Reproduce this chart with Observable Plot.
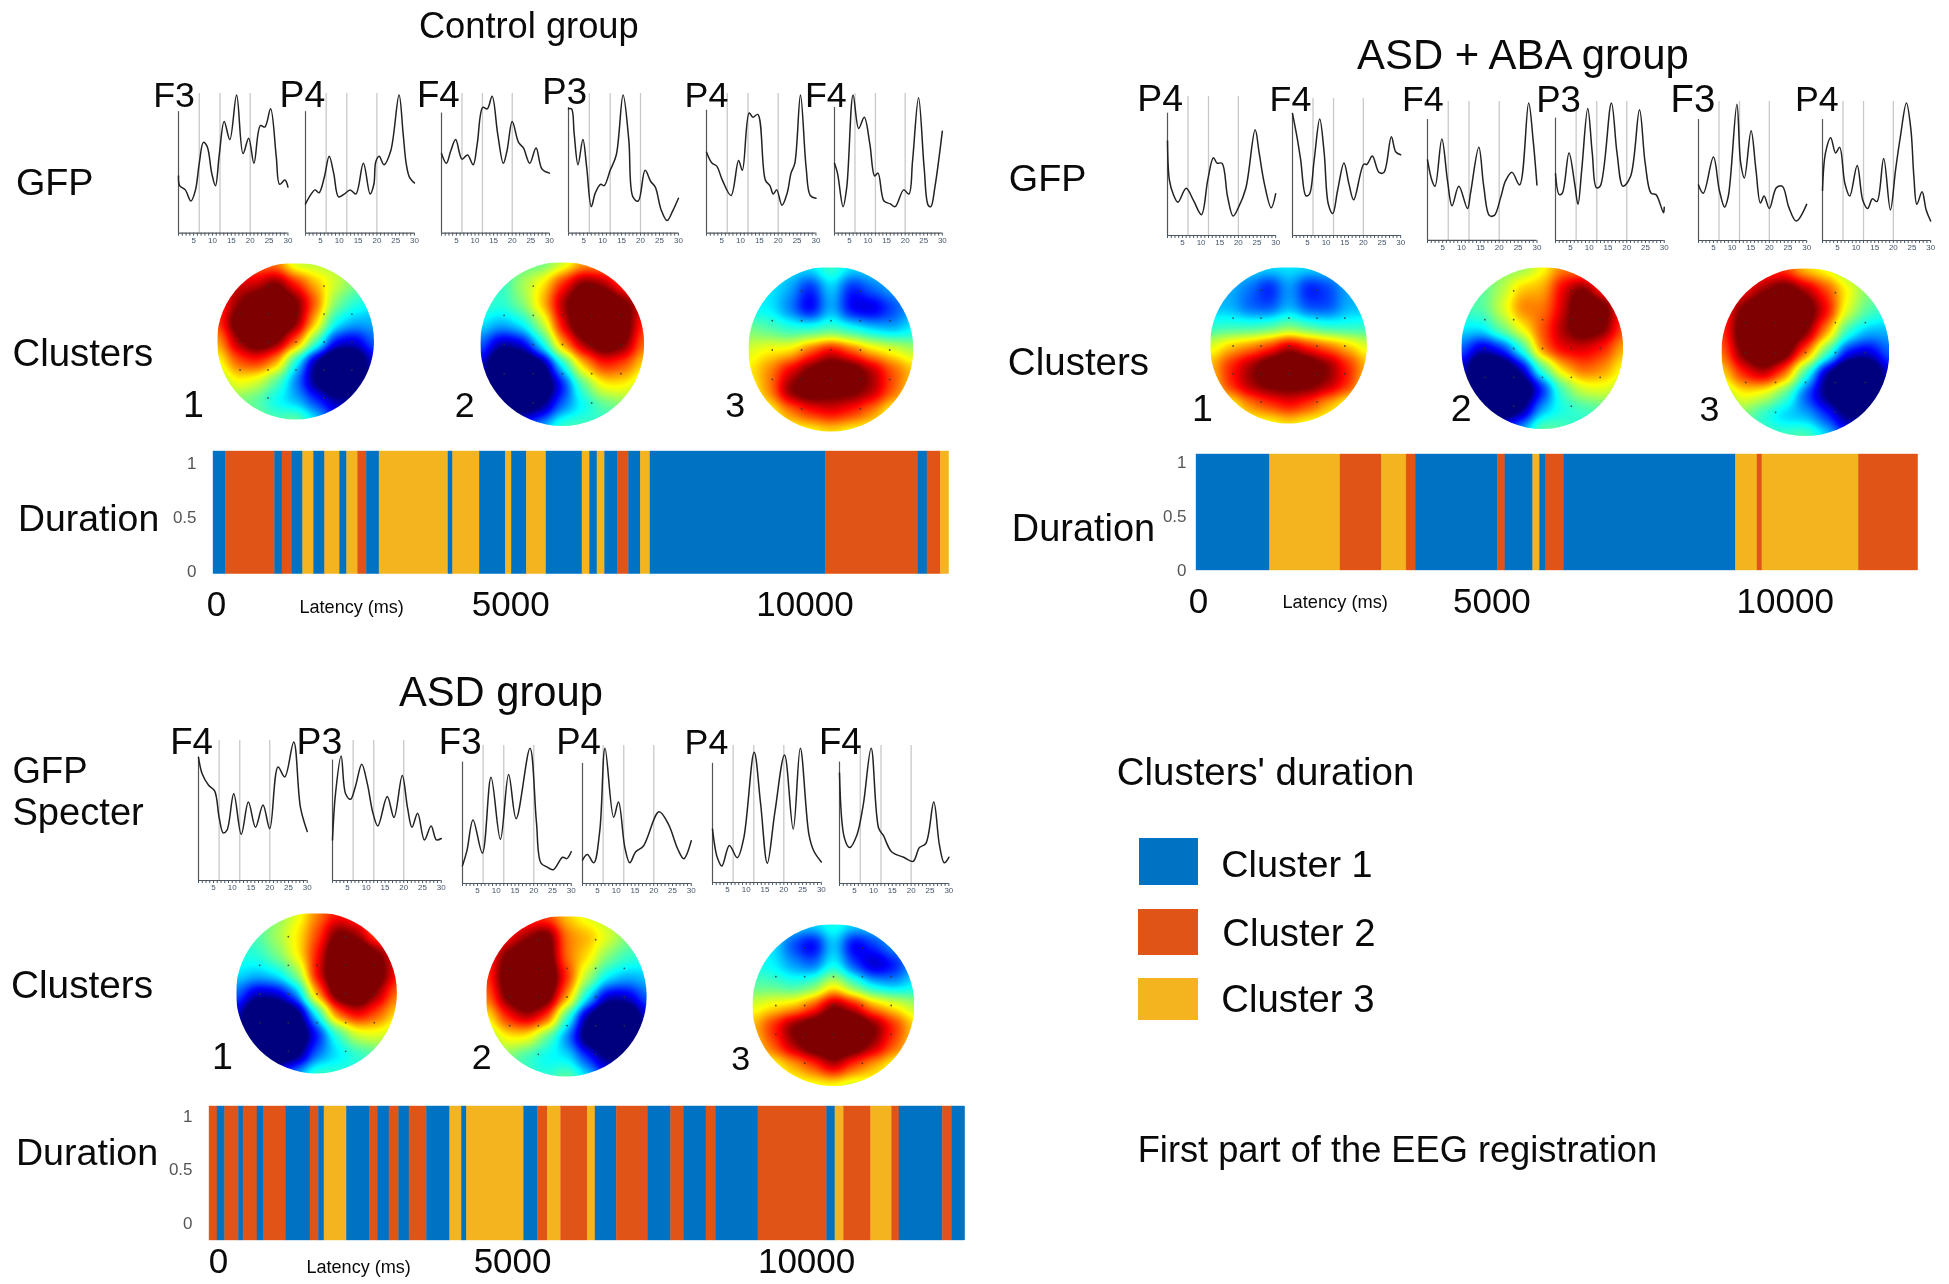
<!DOCTYPE html>
<html><head><meta charset="utf-8">
<script src="https://cdn.jsdelivr.net/npm/d3@7"></script>
<script src="https://cdn.jsdelivr.net/npm/@observablehq/plot@0.6"></script>
<style>
html,body{margin:0;padding:0;background:#fff}
#page{position:relative;width:1949px;height:1284px;overflow:hidden;font-family:"Liberation Sans",Arial,sans-serif;color:#0a0a0a;filter:blur(0.4px)}
#page>svg{position:absolute}
.lab{position:absolute;white-space:nowrap;line-height:1;z-index:5}
.sw{position:absolute}
</style></head><body><div id="page"></div>
<script>
// ---------- cluster colours
const clusterIds=[1,2,3];
const clusterNames=["Cluster 1","Cluster 2","Cluster 3"];
const clusterColors=["#0072c3","#e05517","#f4b41f"];

// ---------- duration: microstate breakpoints (ms) and the cluster of each interval
const controlBreaks=[0,214,1047,1172,1342,1523,1709,1896,2151,2270,2457,2605,2821,3993,4071,4525,4967,5069,5324,5659,6270,6399,6525,6654,6875,7062,7261,7426,10404,11980,12133,12359,12500];
const controlClusters=[1,2,1,2,1,3,1,3,1,3,2,1,3,1,3,1,3,1,3,1,3,1,3,1,2,1,3,1,2,1,2,3];
const abaBreaks=[0,1253,2454,3159,3580,3738,5139,5265,5739,5855,5960,6266,9193,9562,9646,11289,12300];
const abaClusters=[1,3,2,3,2,1,2,1,3,1,2,1,3,2,3,2];
const asdBreaks=[0,136,267,500,578,816,930,1304,1717,1860,1955,2336,2732,2863,3061,3226,3401,3697,4093,4292,4377,5351,5584,5754,5980,6431,6564,6927,7459,7850,8067,8451,8616,9335,10503,10644,10792,11251,11608,11733,12471,12629,12850];
const asdClusters=[2,1,2,1,2,1,2,1,2,1,3,1,2,1,2,1,2,1,3,1,3,1,2,3,2,3,1,2,1,2,1,2,1,2,1,3,2,3,2,1,2,1];

// ---------- GFP spectra: frequency (Hz) and amplitude (% of panel height)
const cF3Hz=[1,1.3,2.8,4.3,5.5,6.5,7.6,8.6,9.8,10.8,11.8,13.1,14.6,16.4,18.1,19.6,21,22.7,23.9,25.4,26.9,27.8,29.2,30];
const cF3V=[41,34,31,23,31,50,65,62,43,34,56,80,67,99,57,68,50,77,76,89,55,35,38,33];
const cP4aHz=[1,2.5,3.5,4.6,6,7.3,8.5,9.8,11.3,12.9,14.4,16.4,18.2,19.2,19.7,20.6,21.9,23.7,25.9,27,27.8,28.7,30];
const cP4aV=[21,28,31,29,40,55,43,26,28,31,28,50,28,35,51,55,49,59,99,71,50,40,36];
const cF4aHz=[1,2.3,3.5,4.8,6.5,8,9.5,10.6,12.1,13.3,14.6,16.1,17.6,18.6,20,21.7,23,24.7,26.4,28,30];
const cF4aV=[57,50,59,67,53,56,49,64,90,89,98,71,50,59,80,65,61,50,61,46,43];
const cP3Hz=[1,1.8,2.5,3.5,4.8,5.8,7,8.1,9.5,10.4,12,13.6,15.4,16.9,18,19.4,21.2,22.7,23.9,25.4,27,28.5,30];
const cP3V=[89,89,71,49,67,47,19,29,35,34,45,56,99,67,26,23,45,37,33,17,9,16,25];
const cP4bHz=[1,2.5,3.7,5.2,7.5,9.5,10.5,12.3,13.3,14.6,16.6,17.8,18.7,19.6,21,22.4,23.4,24.4,25.9,27.4,28.5,30];
const cP4bV=[58,50,48,38,27,52,45,86,83,85,38,34,28,31,20,29,43,50,99,47,27,25];
const cF4bHz=[1,1.8,3.3,4.3,6,7.5,9,10.5,11.8,12.7,14.3,16,17.3,19.6,21,22,23.6,25.1,26.2,26.9,28,30];
const cF4bV=[50,43,19,33,99,75,83,64,41,43,23,21,19,31,28,52,97,47,20,19,33,73];

const aP4aHz=[1,1.5,2.5,3.8,6,8,10.1,11.8,13.3,14.3,15.6,17.1,18.6,20,22,24.5,25.6,27,28.8,30];
const aP4aV=[68,40,30,24,34,25,15,40,56,52,52,28,14,20,34,76,59,37,20,30];
const aF4aHz=[1,2.2,3.2,4.6,5.5,6.8,8.3,9.5,10.6,11.8,13.1,14.8,16.1,17.4,20.1,21,22.4,24.2,25.5,27.5,28.7,30];
const aF4aV=[89,72,55,29,30,55,85,60,23,16,33,53,38,26,52,52,58,46,46,72,61,59];
const aF4bHz=[1,2.2,3,4.8,6.3,7.5,9.3,11.6,12.4,14.6,15.9,17.4,18.7,20.4,21.7,23.4,25.4,27.8,29,30];
const aF4bV=[58,43,39,73,43,25,39,23,34,67,39,18,18,31,43,49,40,99,72,40];
const aP3Hz=[1,2,2.8,4.6,6.1,7,8,9.6,10.8,11.9,12.9,15.9,17.4,19,21,23.4,24.9,26.5,27.8,29.8,30];
const aP3V=[48,33,34,63,41,26,51,95,63,38,39,99,63,39,46,94,56,34,33,20,24];
const aF3Hz=[1,2.3,5,6.6,8,9,11.3,12.3,13.3,15.1,16.4,17.6,18.6,20,21.9,23.5,25.2,27.2,30];
const aF3V=[40,34,60,36,24,32,98,56,45,79,51,27,32,23,38,39,24,14,26];
const aP4bHz=[1,1.8,3.2,4.5,5.6,7,8.3,10.3,11.8,13.1,14.4,15.6,17.4,19.2,20.6,21.9,23.5,24.7,25.5,26.3,27.7,28.8,30];
const aP4bV=[36,63,74,63,67,41,32,54,29,23,30,28,59,22,51,75,99,80,46,26,35,22,14];

const dF4aHz=[1,2,3.7,5.3,6.5,7.6,8.6,10.4,12.4,14.3,16.2,18.2,20,22.2,24,26.4,28.2,30];
const dF4aV=[88,76,68,64,45,34,36,62,33,56,38,54,37,81,74,99,52,35];
const dP3Hz=[1,1.8,3.3,4.5,5.8,7.1,8.8,10.3,11.8,13.1,15.6,17.4,19.6,21,22.2,23.7,25.5,27.3,28.7,30];
const dP3V=[29,62,89,62,58,67,83,69,48,39,60,45,75,52,38,48,29,39,29,30];
const dF3Hz=[1,2.2,3.8,6.3,8.6,11.1,13.3,15.3,19,20.7,21.9,23.5,25.2,27.7,28.8,30];
const dF3V=[13,24,46,22,77,32,79,47,98,45,15,12,10,19,18,23];
const dP4aHz=[1,2.3,4,5.6,7,9.3,10.6,12.3,13.6,15.2,17.2,21.4,23.9,26.4,28,30];
const dP4aV=[17,21,15,38,98,48,59,26,15,23,27,52,43,25,18,31];
const dP4bHz=[1,2.3,3.5,5.5,7.6,9.3,12.1,13.8,15.6,17.6,20.2,22.5,24.4,26.7,28,30];
const dP4bV=[39,18,12,27,18,32,95,58,14,51,93,39,98,35,23,15];
const dF4bHz=[1,2.3,3.7,5.6,7.3,9.4,11.4,12.6,14.8,18,20.5,22.2,23.9,26,27.5,28.8,30];
const dF4bV=[80,33,26,35,57,98,40,35,23,19,16,26,29,59,28,15,19];

const bandEdges=[6.5,12,20];
const hzTicks=d3.range(1,31);

// ---------- scalp maps: potential read on a 9x9 grid (front row first, left column first), 0..10 jet scale
const gridAxis=[-1,-0.75,-0.5,-0.25,0,0.25,0.5,0.75,1];
const electrodeAxis=[-0.712,-0.356,0,0.356,0.712];
const mapControl1=[[8,8,7.5,7.5,5.5,5.5,5.5,5,5],[9,9,9,10,8.5,7,6,5,5],[8,9.5,10.5,11,10,8,5,4,3.5],[8,10.5,11,11,10,7,3.6,3,3],[7,9.5,10.5,10,8,4.5,1.5,1.2,2.5],[6,8,8.5,7.5,3.5,0.5,-1,-0.5,1.5],[5,6.5,6,4.5,2.5,0.5,-1,0,1],[5,5,4.5,3.5,3,2,1,1,1],[5,5,5,4.5,5,3.5,2,1,1]];
const mapControl2=[[4,4,4.5,4.5,5.5,7,7,6,6],[4,4,5.5,6.5,8.5,10,9.5,8,7],[4.5,4,5,7,9.5,11,11,10,9],[3.5,3,3.5,5.5,9,11,11,10.5,8],[2.5,0.8,1.2,3.5,7.5,9.5,10.5,10,7.5],[1.5,-1,-1,0,3.5,7,8.5,8,6.5],[1,-0.5,-1,-0.5,1.5,4.5,6.5,6.5,5.5],[1,1,0,0.5,2.5,3.5,4.5,5,5],[1,1,2,3,4.5,4.5,4,4,4]];
const mapControl3=[[3.5,3.5,3.5,3.5,4.5,3.5,3.5,3.5,3.5],[3.5,3.5,3,1.5,3.5,1.5,2.5,3,3],[3.5,3.5,2.5,1,3.2,1.2,1,2,3],[5,4.5,4,4,4.2,3.8,3.2,2.8,3.5],[6,6.5,6.5,8,9.2,8,6.8,6.3,5.5],[6.5,7.5,9,10,10.5,10.5,9.5,8,7],[6,7.5,10,10.5,10,10,9.5,8,6.5],[6,6,7.5,8.5,9,8.5,7.5,6,6],[6,6,6,6,6.5,6,6,6,6]];
const mapAba1=[[3.5,3.5,3.5,3.5,3.5,3.5,3.5,3.5,3.5],[3,3,2.5,1.5,3,1.5,2,3,3],[3,3,2.2,2,3,2,2,3,3],[4,4,4,4.2,4.8,4.2,3.8,3.8,4],[6,7,7.5,8.2,9.5,8.5,7.8,7,6],[7,8.5,9.5,10.5,11,10.5,9.8,8.5,7],[6.5,8.5,9.5,10,10,10,9.5,8.5,6.5],[6,6,7.5,8.2,8.8,8.2,7,6,6],[6,6,6,6,6.5,6,6,6,6]];
const mapAba2=[[5,5,5,5,6.2,7.5,7,7,7],[4.5,4.5,5.5,7,7,9,10,8,7],[4.5,4.5,6,7.8,7.5,9,11,10.5,8],[3.5,3.5,5,6.5,8,9.5,10.5,10,8],[2.5,1,1.8,4,8,9,9,8.5,7],[1.5,-1,-0.5,1,4.5,7,8,7.5,6.2],[1,-1,-1,-0.5,1.5,4.5,6,6.2,5.5],[1,0,-0.5,0.5,3,3.8,4.2,4.5,5],[1,1,2,3,5,4.5,4,4,4]];
const mapAba3=[[8,8,8,8,6.5,6,5,5,5],[8,8.5,9.5,10.5,9.5,8.2,6.5,5,5],[8,10,11,11,10.5,9,6,4.5,4],[8,10.5,11,11,10,7.5,4,3,3],[7.5,10,11,10.5,8,4.5,1.5,1.2,2.5],[6.5,8.5,9.5,8,4,0.5,-1,-1,1.5],[5,6.5,6,4.5,2,0.5,-1,-0.5,1],[5,5,3.8,3,3,2,0.5,1,1],[5,5,4.5,4.5,4.8,3.5,2,1,1]];
const mapAsd1=[[4,4,5,6,7.5,8.5,8,7,7],[4,4.5,5.5,6.5,8,10,9.5,7.5,7],[4,4,5,6.5,8.5,11,11,10,8.5],[3.5,3.2,3.5,5,9,11,11,10.5,8.5],[2.5,1,1.2,2.5,7.5,10.5,11,9.5,7.5],[1.5,-1,-1,0,3.5,8,9,8,6.5],[1,-1,-1,-0.5,1.5,4,6,6.2,5.5],[1,0,-0.5,0.2,2.5,3.3,4,4.5,5],[1,1,2,3,4.5,4.2,4,4,4]];
const mapAsd2=[[8,8,8,8,6.8,6,5.5,5,5],[8,8.5,9.5,10.5,7.5,7.2,6.2,5,5],[8,10,11,10.5,7.5,6.8,5,4.2,4],[8,10.5,11,11,8.5,5.5,3.5,3,3.2],[7.5,10,11,10.5,7.5,3.5,1,1.2,2.5],[6.2,8.5,9.5,8.5,4,0.5,-1,-1,1.5],[5,6.5,6.5,4.5,2.5,0,-1,-0.5,1],[5,5,4,3.5,3.5,2,0.5,1,1],[5,5,4.5,4,5,3.5,2,1,1]];
const mapAsd3=[[3.5,3.5,3.5,3.5,4,3.5,3.5,3.5,3.5],[3.5,3.5,2,1,3.5,1,2,3,3],[4,3.5,2.8,2.2,3.8,2,0.8,1.5,3],[4.5,4.5,4,4.5,6.5,4.5,3.2,2.8,3.5],[6,6.5,6.8,8,10,9,7.2,6.5,5.5],[7,8.5,10,10.5,11,11,10,8.5,6.8],[6.5,8,9.5,10.5,11,10.5,9.5,8,6.5],[6,6,7,8,9.5,8,7,6,6],[6,6,6,6,6,5.5,6,6,6]];
const jetStops=[0.7,1.6,3.6,5,6.4,8.7,9.7];
const jetColors=["#00007f","#0000ff","#00ffff","#7dff7d","#ffff00","#ff0000","#7f0000"];

const page=document.getElementById("page");
const baseStyle={background:"transparent",maxWidth:"none",overflow:"visible",fontFamily:"'Liberation Sans',Arial,sans-serif"};
function place(el,left,top){el.style.left=left+"px";el.style.top=top+"px";page.appendChild(el);}

// horizontal placement per section
let originX=0;
const X=x=>originX+(x-originX)*0.995;

// ---------- labels: real text, sized so that it spans what it spans in the reference
const ctx=document.createElement("canvas").getContext("2d");
function label(text,x0,x1,base,color){
  ctx.font="100px 'Liberation Sans'";
  const left=X(x0),size=(X(x1)-left)/ctx.measureText(text).width*100;
  const s=document.createElement("span");
  s.className="lab";s.textContent=text;s.style.fontSize=size+"px";
  s.style.left=left+"px";s.style.top=(base-0.8465*size)+"px";
  if(color)s.style.color=color;
  page.appendChild(s);
}

// ---------- GFP panel
function gfp(hz,v,xa,xb,top,base,axisTop){
  const x0=X(xa),x1=X(xb);
  const mL=3,mR=8,mB=16,mT=2;
  const p=Plot.plot({
    width:x1-x0+mL+mR,height:base-top+mT+mB,
    marginLeft:mL,marginRight:mR,marginTop:mT,marginBottom:mB,
    style:baseStyle,
    x:{domain:[1,30]},y:{domain:[0,100],axis:null},
    marks:[
      Plot.ruleX(bandEdges,{stroke:"#c9c9c9",strokeWidth:1.3}),
      Plot.ruleX([1],{y1:0,y2:axisTop,stroke:"#555",strokeWidth:1.2}),
      Plot.ruleY([0],{stroke:"#555",strokeWidth:1.2}),
      Plot.axisX({ticks:hzTicks,tickSize:3,tickPadding:1,fontSize:8,tickFormat:d=>d%5===0?String(d):"",color:"#44566b",label:null}),
      Plot.line(v,{x:hz,y:v,curve:"catmull-rom",stroke:"#222",strokeWidth:1.5})
    ]});
  place(p,x0-mL,top-mT);
}

// ---------- scalp map: gaussian-weighted readout of the 9x9 readings
function smoothGrid(index,w,h,X,Y,V){
  const out=new Float64Array(w*h), s=w/8*0.5, k=1/(2*s*s);
  for(let py=0;py<h;py++)for(let px=0;px<w;px++){
    let a=0,b=0;
    for(const i of index){
      const dx=px+0.5-X[i],dy=py+0.5-Y[i],g=Math.exp(-(dx*dx+dy*dy)*k);
      a+=g*V[i];b+=g;
    }
    out[py*w+px]=a/b;
  }
  return out;
}
function scalp(grid,cxa,cy,r){
  const cx=X(cxa);
  const cells=grid.flatMap((row,i)=>row.map((v,j)=>({x:gridAxis[j],y:gridAxis[i],v})));
  const electrodes=electrodeAxis.flatMap(y=>electrodeAxis.filter(x=>Math.abs(y)<0.7||Math.abs(x)===0.356).map(x=>({x,y})));
  const size=Math.round(2*r);
  const p=Plot.plot({
    width:size,height:size,margin:0,
    style:{...baseStyle,overflow:"hidden",clipPath:"circle(50%)"},
    x:{domain:[-1,1],axis:null},y:{domain:[-1,1],reverse:true,axis:null},
    color:{type:"linear",domain:jetStops,range:jetColors,clamp:true,interpolate:"rgb"},
    marks:[
      Plot.raster(cells,{x:"x",y:"y",fill:"v",x1:-1,x2:1,y1:-1,y2:1,pixelSize:1,interpolate:smoothGrid}),
      Plot.dot(electrodes,{x:"x",y:"y",r:0.9,fill:"#333",fillOpacity:0.8})
    ]});
  place(p,cx-size/2,cy-size/2);
}

// ---------- duration strip
function duration(breaks,clusters,x0,x1,top,bottom,yLo,yHi,tickDx,yPad,xPad){
  const rows=clusters.map((c,i)=>({a:breaks[i],b:breaks[i+1],c}));
  const mL=70,mR=2,mT=2,mB=xPad+36;
  const p=Plot.plot({
    width:x1-x0+mL+mR,height:bottom-top+mT+mB,
    marginLeft:mL,marginRight:mR,marginTop:mT,marginBottom:mB,
    style:baseStyle,
    x:{domain:[0,breaks[breaks.length-1]]},
    y:{domain:[yLo,yHi]},
    color:{type:"ordinal",domain:clusterIds,range:clusterColors},
    marks:[
      Plot.rect(rows,{x1:"a",x2:"b",y1:yLo,y2:yHi,fill:"c",stroke:"c",strokeWidth:0.4}),
      Plot.axisY({ticks:[0,0.5,1],tickSize:0,tickPadding:yPad,fontSize:17,color:"#555",tickFormat:d=>String(d),label:null}),
      Plot.axisX({ticks:[0,5000,10000],tickSize:0,tickPadding:xPad,fontSize:35,dx:tickDx,color:"#0a0a0a",tickFormat:d=>String(d),label:null})
    ]});
  place(p,x0-mL,top-mT);
}

// ---------- Control group
originX=0;
label("Control group",421,642,39);
[["F3",154,196,108],["P4",281,327,108],["F4",419,462,108],["P3",545,590,105],["P4",688,732,108],["F4",809,851,108]].forEach(d=>label(d[0],d[1],d[2],d[3]));
label("GFP",16,94,196);
gfp(cF3Hz,cF3V,179,289,93,232.7,87);
gfp(cP4aHz,cP4aV,306.5,416,93,232.7,87);
gfp(cF4aHz,cF4aV,443,551.5,93,232.7,86);
gfp(cP3Hz,cP3V,571,681.5,93,232.7,90);
gfp(cP4bHz,cP4bV,710,820,93,232.7,88);
gfp(cF4bHz,cF4bV,838.6,947,93,232.7,90);
label("Clusters",12.5,154,366);
scalp(mapControl1,297,341,78.5);
scalp(mapControl2,565,344,82);
scalp(mapControl3,835,349,82.5);
label("1",184,205,418);label("2",457,477,418);label("3",729,749,418);
label("Duration",18,160,532);
duration(controlBreaks,controlClusters,212.7,948.3,450.7,573.3,-0.02,1.114,3,17,17);
label("Latency (ms)",301,406,613);

// ---------- ASD + ABA group
originX=980;
label("ASD + ABA group",1359,1697,69);
[["P4",1138,1184,112],["F4",1271,1313,112],["F4",1404,1446,112],["P3",1539,1584,113],["F3",1674,1719,112],["P4",1799,1843,112]].forEach(d=>label(d[0],d[1],d[2],d[3]));
label("GFP",1009,1087,192);
gfp(aP4aHz,aP4aV,1168.2,1276.9,96,235,88);
gfp(aF4aHz,aF4aV,1293.7,1402.4,98,235,89);
gfp(aF4bHz,aF4bV,1429,1539,101,240,87);
gfp(aP3Hz,aP3V,1558.3,1667.6,101,240,88);
gfp(aF3Hz,aF3V,1701.7,1810.4,101,240,87);
gfp(aP4bHz,aP4bV,1826,1934.7,101,240,87);
label("Clusters",1008,1150,376);
scalp(mapAba1,1290,345,78.5);
scalp(mapAba2,1545,348,81);
scalp(mapAba3,1809.5,352,84);
label("1",1193,1214,422);label("2",1453,1474,422);label("3",1703,1723,422);
label("Duration",1012,1156,542);
duration(abaBreaks,abaClusters,1196.3,1918,454,570,0,1.074,2,10,18);
label("Latency (ms)",1284,1390,608);

// ---------- ASD group
originX=0;
label("ASD group",401,606,706);
[["F4",171,214],["P3",298,344],["F3",441,484],["P4",559,604],["P4",688,732],["F4",823,866]].forEach(d=>label(d[0],d[1],d[2],755));
label("GFP",12.5,88,784);label("Specter",12.5,144.5,825);
gfp(dF4aHz,dF4aV,198.5,307.8,740,880,88);
gfp(dP3Hz,dP3V,333.5,442.8,740,880,86);
gfp(dF3Hz,dF3V,464.2,573.5,745,883,88);
gfp(dP4aHz,dP4aV,585.4,694.7,745,883,87);
gfp(dP4bHz,dP4bV,716,825.4,745,882,87);
gfp(dF4bHz,dF4bV,843,952.9,745,883,88);
label("Clusters",11,154,999);
scalp(mapAsd1,318,993,80.5);
scalp(mapAsd2,569,996,80.5);
scalp(mapAsd3,837.5,1005,81);
label("1",213,234,1070);label("2",474,494,1070);label("3",735,754,1070);
label("Duration",16,159,1166);
duration(asdBreaks,asdClusters,209.3,965,1106,1240,-0.159,1.093,9,17,8);
label("Latency (ms)",308,413,1273);

// ---------- legend
originX=1090;
label("Clusters' duration",1117,1416,785);
[[1139,838,885,1222,1374,878],[1138,909,955,1223,1377,946],[1138,978,1020,1222,1376,1012]].forEach((d,i)=>{
  const s=document.createElement("div");s.className="sw";
  s.style.cssText="left:"+X(d[0])+"px;top:"+d[1]+"px;width:"+(X(1199)-X(d[0]))+"px;height:"+(d[2]-d[1])+"px;background:"+clusterColors[i];
  page.appendChild(s);
  label(clusterNames[i],d[3],d[4],d[5]);
});
label("First part of the EEG registration",1138,1660,1163);
</script></body></html>
